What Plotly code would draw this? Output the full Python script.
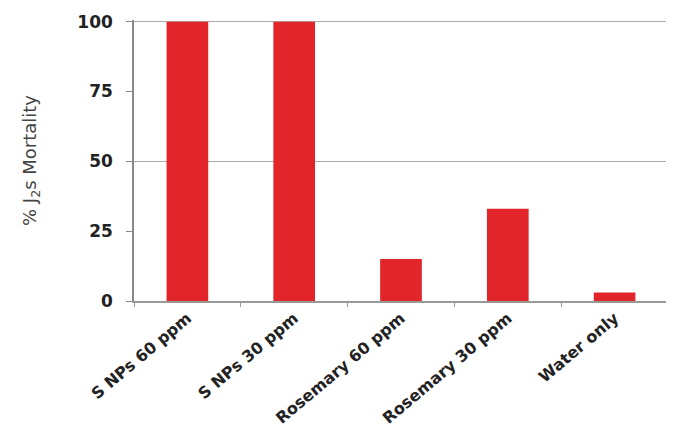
import plotly.graph_objects as go

categories = ["S NPs 60 ppm", "S NPs 30 ppm", "Rosemary 60 ppm", "Rosemary 30 ppm", "Water only"]
mortality = [100, 100, 15, 33, 3]
y_ticks = [0, 25, 50, 75, 100]

fig = go.Figure()
fig.add_trace(go.Bar(x=categories, y=mortality, marker=dict(color="#E2242B", line=dict(width=0)), width=0.39))
# invisible trace on overlay axis to carry gridlines at 50 and 100
fig.add_trace(go.Scatter(x=categories, y=mortality, yaxis="y2", mode="markers",
                         marker=dict(opacity=0), hoverinfo="skip", showlegend=False))

# page body adds an 8px offset, so the figure is sized to fit the window
fig.update_layout(
    width=666, height=425,
    margin=dict(l=126, r=6, t=12, b=132),
    plot_bgcolor="white", paper_bgcolor="white",
    showlegend=False,
    font=dict(family="DejaVu Sans, Liberation Sans, Arial, sans-serif", color="#222"),
    xaxis=dict(
        tickangle=-40, tickfont=dict(size=16, color="#222", weight="bold"),
        showline=True, linecolor="#999", linewidth=1.5,
        ticks="outside", ticklen=4, tickcolor="#999", tickson="boundaries",
        showgrid=False, automargin=False,
    ),
    yaxis=dict(
        range=[0, 100.6], tickvals=y_ticks, tickfont=dict(size=17, color="#222", weight="bold"),
        showline=True, linecolor="#888", linewidth=1.5,
        ticks="outside", ticklen=6, tickcolor="#888", ticklabelstandoff=10,
        showgrid=False, zeroline=False, automargin=False,
        title=dict(text="% J<sub>2</sub>s Mortality", font=dict(size=18, color="#444"), standoff=36),
    ),
    yaxis2=dict(
        range=[0, 100.6], overlaying="y", tickvals=[50, 100], showgrid=True, gridcolor="#aaa", gridwidth=1,
        showticklabels=False, zeroline=False, showline=False, layer="below traces", automargin=False,
    ),
)
fig.write_html("out.html")
